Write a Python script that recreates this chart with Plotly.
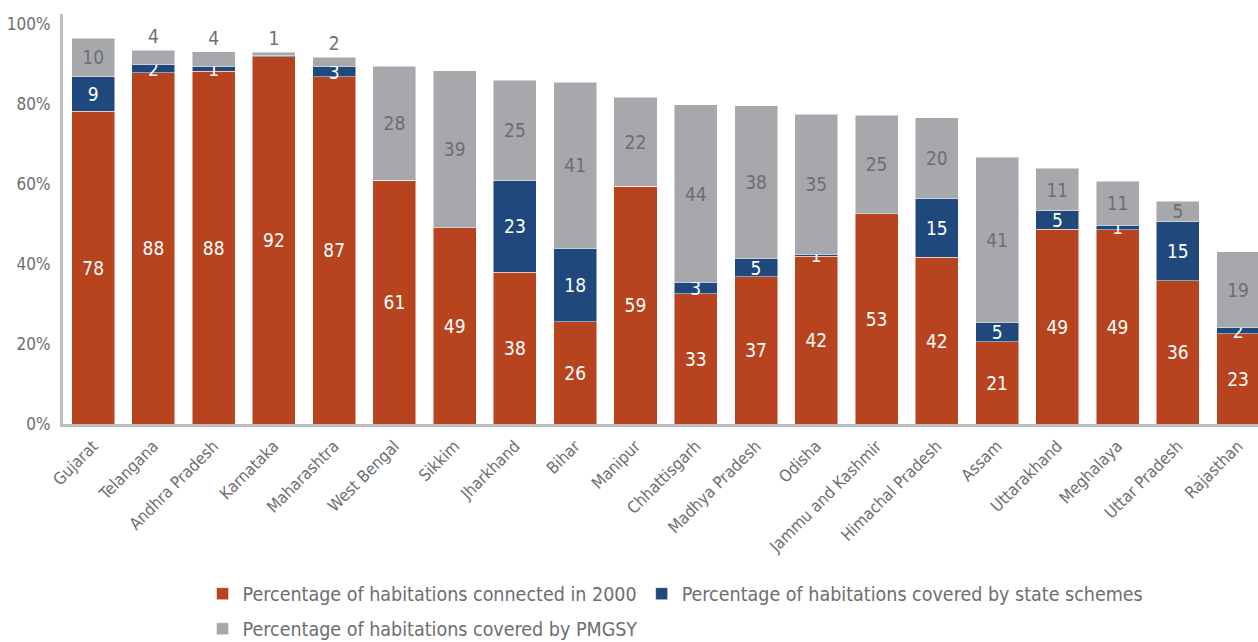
import plotly.graph_objects as go

states = ["Gujarat", "Telangana", "Andhra Pradesh", "Karnataka", "Maharashtra",
          "West Bengal", "Sikkim", "Jharkhand", "Bihar", "Manipur", "Chhattisgarh",
          "Madhya Pradesh", "Odisha", "Jammu and Kashmir", "Himachal Pradesh",
          "Assam", "Uttarakhand", "Meghalaya", "Uttar Pradesh", "Rajasthan"]

connected_2000 = [78.2, 87.8, 88.2, 91.8, 86.8, 61.0, 49.1, 38.0, 25.6, 59.4,
                  32.6, 36.8, 41.9, 52.6, 41.7, 20.6, 48.7, 48.6, 35.8, 22.6]
state_schemes = [8.6, 2.0, 1.3, 0.3, 2.6, 0.0, 0.0, 22.8, 18.4, 0.0,
                 2.8, 4.6, 0.6, 0.0, 14.6, 4.9, 4.6, 1.1, 14.8, 1.5]
pmgsy = [9.7, 3.7, 3.6, 0.8, 2.3, 28.4, 39.2, 25.2, 41.4, 22.3,
         44.4, 38.2, 35.0, 24.6, 20.3, 41.2, 10.6, 11.0, 5.1, 19.0]

y_ticks = [0, 20, 40, 60, 80, 100]
y_tick_labels = ["0%", "20%", "40%", "60%", "80%", "100%"]

RED = "#B7441F"
BLUE = "#1F497D"
GRAY = "#A7A8AC"
TXT = "#6D6E71"
FONT = "Liberation Sans Narrow, DejaVu Sans Condensed, Arial Narrow, DejaVu Sans, sans-serif"


def labels(vals):
    return [str(round(v)) if round(v) > 0 else "" for v in vals]


fig = go.Figure()
fig.add_trace(go.Bar(
    x=states, y=connected_2000, name="Percentage of habitations connected in 2000",
    marker=dict(color=RED, line=dict(color="rgba(255,255,255,0.6)", width=0.8)),
    text=labels(connected_2000), textposition="inside", insidetextanchor="middle",
    constraintext="none", textangle=0,
    textfont=dict(color="white", size=19, family=FONT), legend="legend"))
fig.add_trace(go.Bar(
    x=states, y=state_schemes, name="Percentage of habitations covered by state schemes",
    marker=dict(color=BLUE, line=dict(color="rgba(255,255,255,0.6)", width=0.8)),
    text=labels(state_schemes), textposition="inside", insidetextanchor="middle",
    constraintext="none", textangle=0,
    textfont=dict(color="white", size=19, family=FONT), legend="legend"))
fig.add_trace(go.Bar(
    x=states, y=pmgsy, name="Percentage of habitations covered by PMGSY",
    marker=dict(color=GRAY, line=dict(color="rgba(255,255,255,0.6)", width=0.8)),
    text=labels(pmgsy),
    textposition=["outside" if v < 4.5 else "inside" for v in pmgsy],
    insidetextanchor="middle", constraintext="none", textangle=0, cliponaxis=False,
    textfont=dict(color=TXT, size=19, family=FONT), legend="legend2"))

fig.update_layout(
    barmode="stack", bargap=0.286,
    width=1258, height=642,
    margin=dict(l=63, r=0, t=14, b=218),
    paper_bgcolor="white", plot_bgcolor="white",
    font=dict(family=FONT, color=TXT),
    showlegend=True,
    legend=dict(orientation="h", xref="container", yref="container",
                x=0.161, xanchor="left", y=1 - 594 / 642, yanchor="middle",
                font=dict(size=19.5, color=TXT, family=FONT), traceorder="normal",
                itemclick=False),
    legend2=dict(orientation="h", xref="container", yref="container",
                 x=0.161, xanchor="left", y=1 - 629 / 642, yanchor="middle",
                 font=dict(size=19.5, color=TXT, family=FONT), itemclick=False),
)
fig.update_xaxes(
    type="category", range=[-0.5, 19.33], showline=True, linecolor="#BDBEC2",
    linewidth=3, ticks="", tickangle=-45, tickfont=dict(size=16.5, color=TXT, family=FONT),
    showgrid=False, zeroline=False, ticklabelstandoff=3)
fig.update_yaxes(
    range=[0, 102.5], tickvals=y_ticks, ticktext=y_tick_labels, showline=True,
    linecolor="#BDBEC2", linewidth=3, ticks="", showgrid=False, zeroline=False,
    tickfont=dict(size=17, color=TXT, family=FONT), ticklabelstandoff=6)

fig.write_html("out.html", post_script="document.body.style.margin='0';",
               config={"displayModeBar": False})
